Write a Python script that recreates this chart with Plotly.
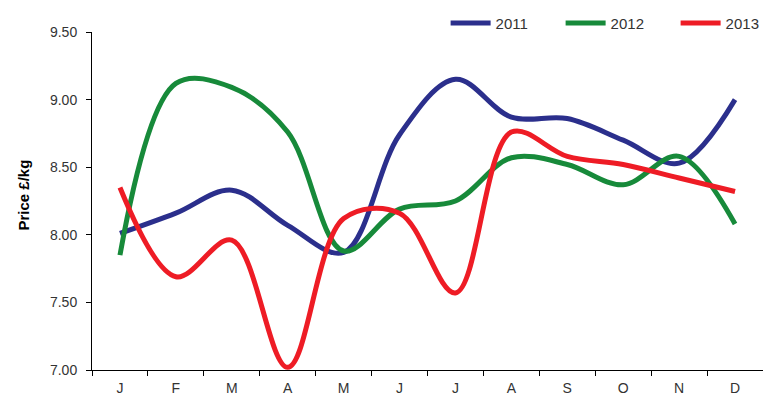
import plotly.graph_objects as go

months = ["J", "F", "M", "A", "M", "J", "J", "A", "S", "O", "N", "D"]
y2011 = [8.01, 8.16, 8.33, 8.07, 7.87, 8.74, 9.15, 8.87, 8.86, 8.70, 8.53, 9.00]
y2012 = [7.85, 9.12, 9.09, 8.76, 7.88, 8.19, 8.25, 8.57, 8.52, 8.37, 8.58, 8.08]
y2013 = [8.35, 7.69, 7.96, 7.02, 8.12, 8.16, 7.57, 8.76, 8.58, 8.52, 8.42, 8.32]
yticks = [7.0, 7.5, 8.0, 8.5, 9.0, 9.5]

series = [("2011", y2011, "#2B2F8C"), ("2012", y2012, "#178A3A"), ("2013", y2013, "#EE1C25")]
xpos = list(range(len(months)))

fig = go.Figure()
for name, vals, col in series:
    fig.add_trace(go.Scatter(
        x=xpos, y=vals, name=name, mode="lines",
        line=dict(color=col, width=5, shape="spline", smoothing=1.0),
    ))

font_family = "Liberation Sans, Arial, sans-serif"
fig.update_layout(
    width=763, height=398,
    margin=dict(l=92, r=0, t=32, b=28, autoexpand=False),
    paper_bgcolor="white", plot_bgcolor="white",
    font=dict(family=font_family, size=14, color="#333333"),
    showlegend=True,
    legend=dict(
        orientation="h", x=0.527, xanchor="left", y=1.075, yanchor="top",
        font=dict(size=15, color="#333333"),
        itemwidth=40,
        entrywidth=60, entrywidthmode="pixels",
        bgcolor="rgba(0,0,0,0)",
    ),
    annotations=[dict(
        text="<b>Price £/kg</b>", textangle=-90,
        xref="paper", yref="paper", x=(23 - 92) / 671, y=(370 - 195.5) / 338,
        xanchor="center", yanchor="middle", showarrow=False,
        font=dict(size=15, color="black"),
    )],
)
fig.update_xaxes(
    range=[-0.5, len(months) - 0.5],
    tickmode="array", tickvals=xpos, ticktext=months,
    ticks="", showgrid=False, zeroline=False,
    showline=True, linecolor="black", linewidth=1,
    tickfont=dict(size=14, color="#333333"),
    ticklabelstandoff=5,
    minor=dict(tickmode="array", tickvals=[i - 0.5 for i in range(len(months) + 1)],
               ticks="outside", ticklen=5, tickcolor="black", tickwidth=1, showgrid=False),
)
fig.update_yaxes(
    range=[7.0, 9.5], tickmode="array", tickvals=yticks,
    tickformat=".2f", ticks="outside", ticklen=5, tickcolor="black",
    showgrid=False, zeroline=False,
    showline=True, linecolor="black", linewidth=1,
    tickfont=dict(size=14, color="#333333"),
    ticklabelstandoff=6,
)

fig.write_html("out.html")
